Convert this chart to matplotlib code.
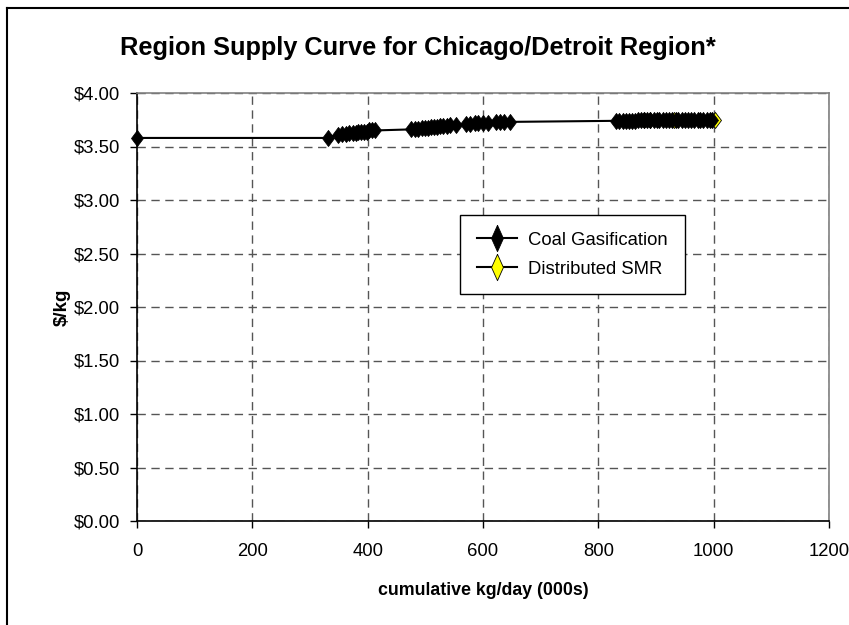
import numpy as np
import matplotlib
matplotlib.use('Agg')
import matplotlib.pyplot as plt
from matplotlib.lines import Line2D
from matplotlib.ticker import FuncFormatter

# cumulative kg/day (000s) and $/kg
coal_x = [0, 331, 348, 355, 362, 368, 374, 379, 384, 389, 394, 398, 403, 408, 412,
          476, 482, 488, 494, 499, 505, 510, 515, 520, 526, 531, 537, 543, 553,
          571, 578, 586, 592, 600, 608, 623, 630, 637, 646,
          831, 836, 842, 848, 853, 858, 864, 869, 874, 879, 885, 889, 896, 901,
          906, 912, 917, 923, 928, 934, 939, 945, 950, 956, 961, 966, 972, 977,
          982, 988, 993, 997]
coal_y = [3.58, 3.58, 3.61, 3.62, 3.62, 3.63, 3.63, 3.63, 3.64, 3.64, 3.64, 3.64, 3.65, 3.65, 3.65,
          3.66, 3.66, 3.66, 3.67, 3.67, 3.67, 3.68, 3.68, 3.68, 3.69, 3.69, 3.69, 3.70, 3.70,
          3.71, 3.71, 3.72, 3.72, 3.72, 3.72, 3.73, 3.73, 3.73, 3.73,
          3.74, 3.74, 3.74, 3.74, 3.74, 3.74, 3.74, 3.75, 3.75, 3.75, 3.75, 3.75, 3.75, 3.75,
          3.75, 3.75, 3.75, 3.75, 3.75, 3.75, 3.75, 3.75, 3.75, 3.75, 3.75, 3.75, 3.75, 3.75,
          3.75, 3.75, 3.75, 3.75]
smr_x = [880, 890, 932, 1003]
smr_y = [3.75, 3.75, 3.75, 3.75]

x_ticks = [0, 200, 400, 600, 800, 1000, 1200]
y_ticks = [0.0, 0.5, 1.0, 1.5, 2.0, 2.5, 3.0, 3.5, 4.0]

plt.rcParams['font.family'] = ['Liberation Sans', 'DejaVu Sans']

W, H = 849, 625
fig = plt.figure(figsize=(W / 100, H / 100), dpi=100)
ax = fig.add_axes([137 / W, (H - 521) / H, (829 - 137) / W, (521 - 93) / H])

diamond = [(0, 1), (0.75, 0), (0, -1), (-0.75, 0), (0, 1)]
thin_diamond = [(0, 1), (0.45, 0), (0, -1), (-0.45, 0), (0, 1)]

ax.plot(smr_x, smr_y, color='black', linewidth=1.5, marker=diamond, markersize=11.5,
        markerfacecolor='#ffff00', markeredgecolor='black', markeredgewidth=0.6,
        zorder=3, clip_on=False)
ax.plot(coal_x, coal_y, color='black', linewidth=1.5, marker=diamond, markersize=11.5,
        markerfacecolor='black', markeredgecolor='black', markeredgewidth=0.6,
        zorder=4, clip_on=False)

ax.set_xlim(0, 1200)
ax.set_ylim(0, 4)
ax.set_xticks(x_ticks)
ax.set_yticks(y_ticks)
ax.yaxis.set_major_formatter(FuncFormatter(lambda v, p: '${:.2f}'.format(v)))

ax.grid(True, color='#555555', linestyle=(0, (6, 4)), linewidth=1.0)
ax.set_axisbelow(True)

for side in ['top', 'right']:
    ax.spines[side].set_color('#808080')
    ax.spines[side].set_linewidth(1.2)
for side in ['left', 'bottom']:
    ax.spines[side].set_color('black')
    ax.spines[side].set_linewidth(1.2)

ax.tick_params(direction='out', length=5, width=1.0, labelsize=13.3, colors='black')
ax.tick_params(axis='y', pad=7)
ax.tick_params(axis='x', pad=11)

ax.set_xlabel('cumulative kg/day (000s)', fontsize=12.8, fontweight='bold', labelpad=16)
ax.set_ylabel('$/kg', fontsize=13.5, fontweight='bold', labelpad=2)

# legend proxies: Excel draws the legend diamonds taller and narrower
leg_handles = [
    Line2D([], [], color='black', linewidth=1.5, marker=thin_diamond, markersize=19,
           markerfacecolor='black', markeredgecolor='black', markeredgewidth=0.6),
    Line2D([], [], color='black', linewidth=1.5, marker=thin_diamond, markersize=19,
           markerfacecolor='#ffff00', markeredgecolor='black', markeredgewidth=0.6),
]
leg = ax.legend(leg_handles, ['Coal Gasification', 'Distributed SMR'], loc='upper left',
                bbox_to_anchor=((460 - 137) / (829 - 137), 1 - (215 - 93) / (521 - 93)),
                borderaxespad=0, fontsize=13.3, frameon=True, fancybox=False,
                edgecolor='black', framealpha=1, borderpad=0.9, handlelength=2.2,
                handletextpad=0.6, labelspacing=0.65)
leg.get_frame().set_linewidth(1.0)

fig.text(418 / W, 1 - 48 / H, 'Region Supply Curve for Chicago/Detroit Region*',
         fontsize=18.3, fontweight='bold', ha='center', va='center')

# outer chart frame (only left and top edges fall inside the crop)
fig.add_artist(Line2D([7 / W, 7 / W], [0, 1 - 8 / H], transform=fig.transFigure,
                      color='black', linewidth=1.5))
fig.add_artist(Line2D([7 / W, 1], [1 - 8 / H, 1 - 8 / H], transform=fig.transFigure,
                      color='black', linewidth=1.5))

plt.savefig('out.png', dpi=100)
